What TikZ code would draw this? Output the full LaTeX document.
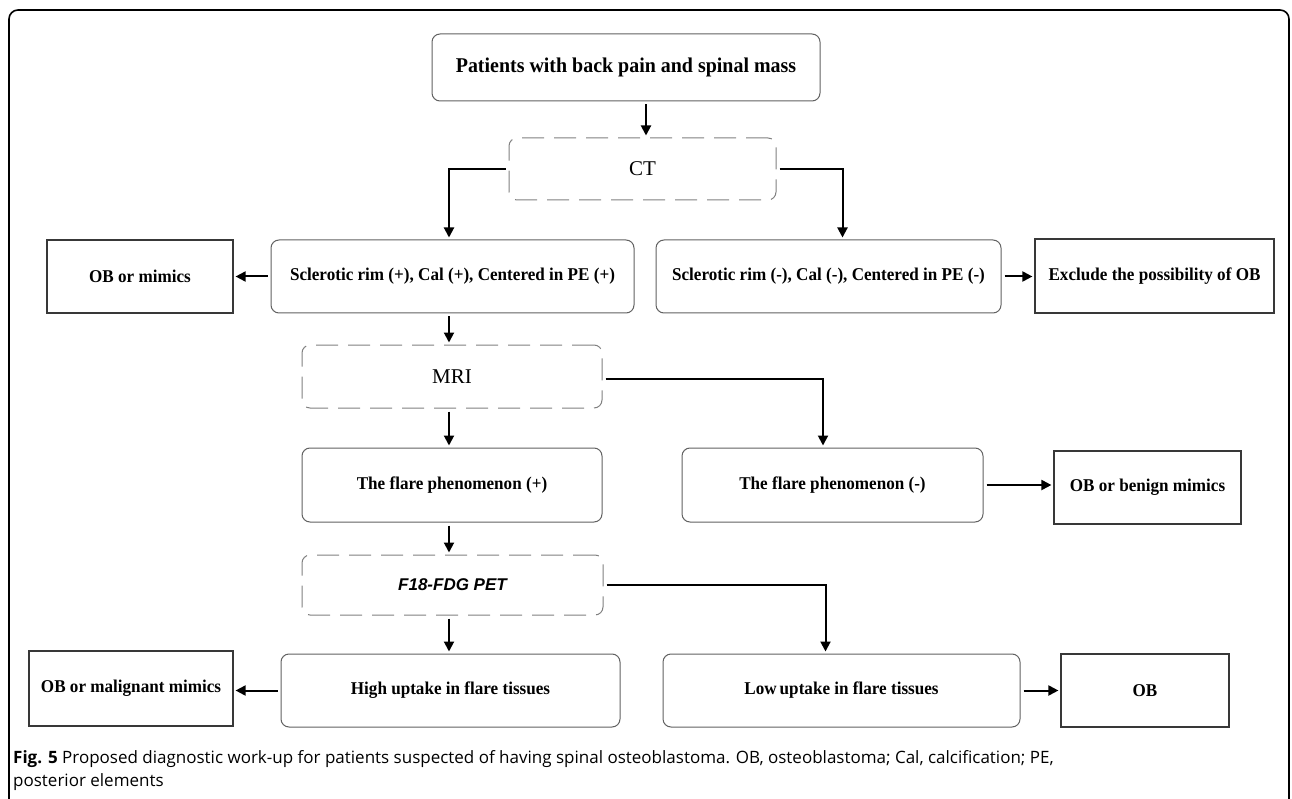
\documentclass[tikz,border=0pt]{standalone}
\usepackage{fontspec}
\setmainfont{Liberation Serif}
\setsansfont{Open Sans}
\newfontfamily\boxfont[FakeStretch=0.95]{Liberation Serif}
\newfontfamily\petfont{Liberation Sans}
\usetikzlibrary{arrows.meta}

\begin{document}
\begin{tikzpicture}
	[x=1pt,y=-1pt,
	box/.style={draw=black!62,line width=1pt,rounded corners=8pt,inner sep=0pt,
		font=\boxfont\bfseries\fontsize{18}{20}\selectfont},
	result/.style={draw=black!78,line width=1.2pt,inner sep=0pt,
		font=\boxfont\bfseries\fontsize{18}{20}\selectfont},
	exam/.style={draw=black!50,line width=1pt,dash pattern=on 22pt off 10pt,
		rounded corners=8pt,inner sep=0pt,font=\fontsize{21}{23}\selectfont},
	arr/.style={-{Triangle[length=10pt,width=10pt]},line width=2pt,
		shorten <=3pt,shorten >=2pt}]
	\useasboundingbox (0,0) rectangle (1292,799);
	% outer frame, open at the bottom
	\draw[line width=1.6pt,rounded corners=9pt] (9,840) -- (9,10) -- (1289,10) -- (1289,840);

	% first row
	\node[box,minimum width=388pt,minimum height=67pt,font=\boxfont\bfseries\fontsize{21}{23}\selectfont]
		(pat) at (626,67.5) {Patients with back pain and spinal mass};
	\node[exam,minimum width=267pt,minimum height=62pt] (ct) at (642.5,169) {CT};

	% CT findings
	\node[box,minimum width=363pt,minimum height=73pt] (sclp) at (452.5,276.5)
		{Sclerotic rim (+), Cal (+), Centered in PE (+)};
	\node[result,minimum width=186pt,minimum height=73pt] (obm) at (140,276.5) {OB or mimics};
	\node[box,minimum width=345pt,minimum height=73pt] (scln) at (828.5,276.5)
		{Sclerotic rim (-), Cal (-), Centered in PE (-)};
	\node[result,minimum width=239pt,minimum height=74pt] (excl) at (1154.5,276)
		{Exclude the possibility of OB};

	% MRI
	\node[exam,minimum width=300pt,minimum height=63pt] (mri) at (452,376.5) {MRI};
	\node[box,minimum width=300pt,minimum height=74pt] (flp) at (452,485)
		{The flare phenomenon (+)};
	\node[box,minimum width=301pt,minimum height=74pt] (fln) at (832.5,485)
		{The flare phenomenon (-)};
	\node[result,minimum width=187pt,minimum height=73pt] (obb) at (1147.5,487.5)
		{OB or benign mimics};

	% PET
	\node[exam,minimum width=301pt,minimum height=60pt,
		font=\petfont\bfseries\itshape\fontsize{17}{19}\selectfont] (pet) at (452.5,585) {F18-FDG PET};
	\node[box,minimum width=339pt,minimum height=73pt] (high) at (450.5,690.5)
		{High uptake in flare tissues};
	\node[result,minimum width=204pt,minimum height=75pt] (obmal) at (131,688.5)
		{OB or malignant mimics};
	\node[box,minimum width=357pt,minimum height=73pt] (low) at (841.5,690.5)
		{Low\,uptake in flare tissues};
	\node[result,minimum width=168pt,minimum height=73pt] (ob) at (1145,690.5) {OB};

	% connectors
	\draw[arr] ([xshift=20pt]pat.south) -- ([xshift=3.5pt]ct.north);
	\draw[arr] (ct.west) -| ([xshift=-3.5pt]sclp.north);
	\draw[arr] (ct.east) -| ([xshift=14pt]scln.north);
	\draw[arr] (sclp.west) -- (obm.east);
	\draw[arr] (scln.east) -- (scln.east -| excl.west);
	\draw[arr] ([xshift=-3.5pt]sclp.south) -- ([xshift=-3pt]mri.north);
	\draw[arr] ([yshift=-2pt]mri.east) -| ([xshift=-9.5pt]fln.north);
	\draw[arr] ([xshift=-3pt]mri.south) -- ([xshift=-3pt]flp.north);
	\draw[arr] ([xshift=-3pt]flp.south) -- ([xshift=-3.5pt]pet.north);
	\draw[arr] (fln.east) -- (fln.east -| obb.west);
	\draw[arr] (pet.east) -| ([xshift=-16pt]low.north);
	\draw[arr] ([xshift=-3.5pt]pet.south) -- ([xshift=-1.5pt]high.north);
	\draw[arr] (high.west) -- (high.west -| obmal.east);
	\draw[arr] (low.east) -- (low.east -| ob.west);

	% caption
	\node[anchor=north west,inner sep=0pt,align=left,
		font=\sffamily\fontsize{17}{23}\selectfont] (cap) at (13,750)
		{\textbf{Fig. 5} Proposed diagnostic work-up for patients suspected of having spinal osteoblastoma. OB, osteoblastoma; Cal, calcification; PE,\\posterior elements};
\end{tikzpicture}
\end{document}
